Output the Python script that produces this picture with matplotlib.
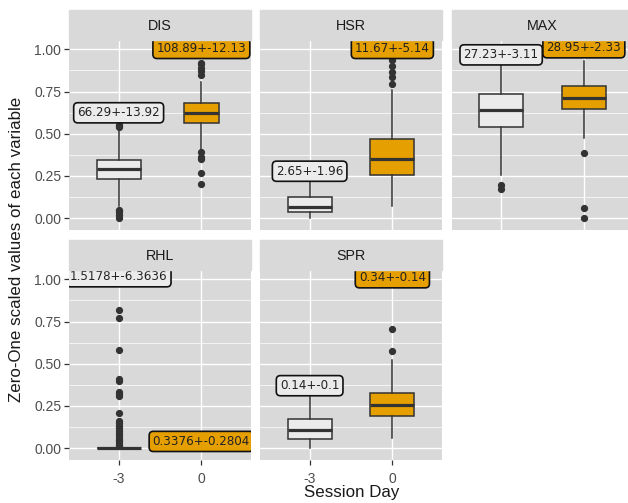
import matplotlib.pyplot as plt
from matplotlib.patches import Rectangle

# facets, in reading order
panels = ["DIS", "HSR", "MAX", "RHL", "SPR"]
days = ["-3", "0"]

# box stats (zero-one scaled): q1, median, q3, whisker low, whisker high
stats_m3 = {
    "DIS": [0.231, 0.294, 0.347, 0.07, 0.53],
    "HSR": [0.034, 0.067, 0.126, 0.002, 0.215],
    "MAX": [0.537, 0.643, 0.738, 0.254, 0.905],
    "RHL": [0.0, 0.0, 0.0, 0.0, 0.0],
    "SPR": [0.057, 0.107, 0.172, 0.004, 0.31],
}
stats_0 = {
    "DIS": [0.566, 0.62, 0.682, 0.41, 0.807],
    "HSR": [0.254, 0.349, 0.467, 0.071, 0.757],
    "MAX": [0.649, 0.712, 0.781, 0.473, 0.93],
    "RHL": None,
    "SPR": [0.191, 0.256, 0.324, 0.063, 0.52],
}
fliers_m3 = {
    "DIS": [0.55, 0.545, 0.54, 0.05, 0.045, 0.035, 0.02, 0.0],
    "HSR": [],
    "MAX": [0.195, 0.17],
    "RHL": [0.82, 0.77, 0.58, 0.41, 0.40, 0.33, 0.32, 0.31, 0.21, 0.16, 0.15,
            0.13, 0.12, 0.10, 0.09, 0.08, 0.06, 0.05, 0.04, 0.03, 0.02, 0.01],
    "SPR": [],
}
fliers_0 = {
    "DIS": [0.92, 0.91, 0.89, 0.87, 0.85, 0.39, 0.36, 0.35, 0.27, 0.2],
    "HSR": [0.935, 0.90, 0.866, 0.837, 0.797],
    "MAX": [0.386, 0.061, 0.0],
    "RHL": [],
    "SPR": [0.704, 0.576],
}

# mean+-sd labels in original units, and where they sit
labels_m3 = {"DIS": "66.29+-13.92", "HSR": "2.65+-1.96", "MAX": "27.23+-3.11",
             "RHL": "1.5178+-6.3636", "SPR": "0.14+-0.1"}
labels_0 = {"DIS": "108.89+-12.13", "HSR": "11.67+-5.14", "MAX": "28.95+-2.33",
            "RHL": "0.3376+-0.2804", "SPR": "0.34+-0.14"}
label_y_m3 = {"DIS": 0.624, "HSR": 0.278, "MAX": 0.967, "RHL": 1.015, "SPR": 0.37}
label_y_0 = {"DIS": 1.005, "HSR": 1.005, "MAX": 1.009, "RHL": 0.04, "SPR": 1.009}

yticks = [0.0, 0.25, 0.5, 0.75, 1.0]

W, H = 628, 503
panel_bg = "#D9D9D9"
orange = "#E69F00"
light = "#EBEBEB"
dark = "#333333"

fig = plt.figure(figsize=(W / 100, H / 100), dpi=100)

lefts = [69, 260, 451.5]
tops = [40, 270]
pw, ph, strip_h = 182, 190, 30


def make_stats(vals, fl):
    q1, med, q3, lo, hi = vals
    return dict(q1=q1, med=med, q3=q3, whislo=lo, whishi=hi, fliers=fl)


for i, name in enumerate(panels):
    r, c = divmod(i, 3)
    x0, y_top = lefts[c], tops[r]
    ax = fig.add_axes([x0 / W, 1 - (y_top + ph) / H, pw / W, ph / H])
    ax.set_facecolor(panel_bg)
    fig.patches.append(Rectangle((x0 / W, 1 - y_top / H), pw / W, strip_h / H,
                                 transform=fig.transFigure, color=panel_bg, zorder=0))
    fig.text((x0 + pw / 2) / W, 1 - (y_top - 14) / H, name, ha="center", va="center",
             fontsize=10.3, color="#1A1A1A", family="Liberation Sans")

    common = dict(patch_artist=True, showcaps=False, widths=0.53, manage_ticks=False,
                  medianprops=dict(color=dark, lw=2.3),
                  whiskerprops=dict(color=dark, lw=1.1),
                  flierprops=dict(marker="o", mfc=dark, mec=dark, ms=4.2))
    width_0 = 0.42 if name == "DIS" else 0.53
    ax.bxp([make_stats(stats_m3[name], fliers_m3[name])], positions=[1],
           boxprops=dict(facecolor=light, edgecolor=dark, lw=1.1), **common)
    if stats_0[name] is not None:
        common["widths"] = width_0
        ax.bxp([make_stats(stats_0[name], fliers_0[name])], positions=[2],
               boxprops=dict(facecolor=orange, edgecolor=dark, lw=1.1), **common)

    ax.set_xlim(0.4, 2.6)
    ax.set_ylim(-0.07, 1.055)
    ax.set_yticks(yticks)
    ax.set_yticks([0.125, 0.375, 0.625, 0.875], minor=True)
    ax.set_xticks([1, 2])
    ax.grid(True, which="major", color="white", lw=1.0)
    ax.grid(True, which="minor", axis="y", color="white", lw=0.5)
    ax.set_axisbelow(True)
    for s in ax.spines.values():
        s.set_visible(False)

    for pos, txt, yy, fc in [(1, labels_m3[name], label_y_m3[name], light),
                             (2, labels_0[name], label_y_0[name], orange)]:
        ax.text(pos, yy, txt, ha="center", va="center", fontsize=8.6,
                family="DejaVu Sans", color="#222222", clip_on=True, zorder=5,
                bbox=dict(boxstyle="round,pad=0.3,rounding_size=0.35",
                          fc=fc, ec="#111111", lw=1.2))

    ax.tick_params(axis="both", length=3.5, width=0.9, color=dark,
                   labelcolor="#4D4D4D", labelsize=10, pad=2)
    ax.tick_params(axis="x", pad=5)
    ax.tick_params(which="minor", length=0)
    if c == 0:
        ax.set_yticklabels([f"{t:.2f}" for t in yticks], family="Liberation Sans")
    else:
        ax.tick_params(axis="y", length=0, labelleft=False)
    if r == 1:
        ax.set_xticklabels(days, family="Liberation Sans")
    else:
        ax.tick_params(axis="x", length=0, labelbottom=False)

fig.text(352 / W, 1 - 492 / H, "Session Day", ha="center", va="center",
         fontsize=12.2, family="Liberation Sans", color="#1A1A1A")
fig.text(17 / W, 1 - 249 / H, "Zero-One scaled values of each variable", ha="center",
         va="center", rotation=90, fontsize=12.2, family="Liberation Sans", color="#1A1A1A")

fig.savefig("out.png", dpi=100)
